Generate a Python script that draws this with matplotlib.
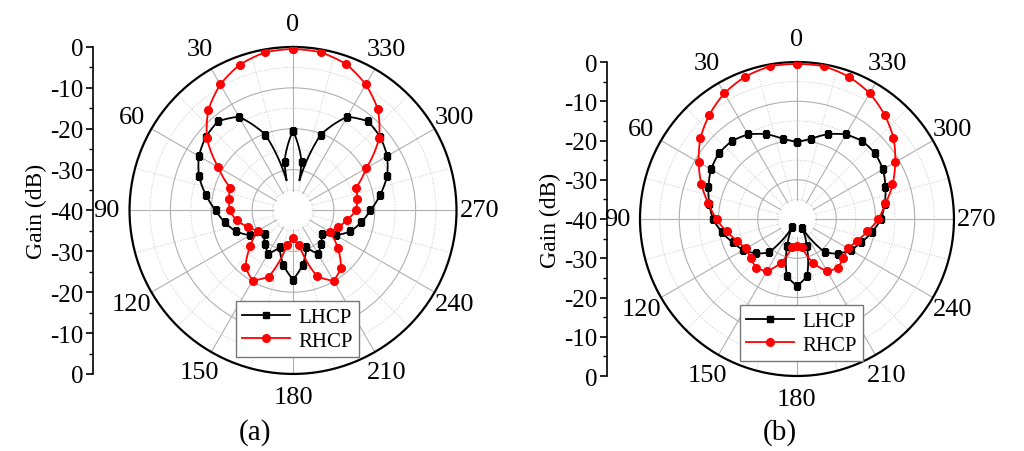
import numpy as np
import matplotlib
matplotlib.use("Agg")
import matplotlib.pyplot as plt

plt.rcParams['font.family'] = ['Liberation Serif', 'DejaVu Serif']

# angles in degrees, 0 at top, counter-clockwise
angles = list(range(0, 360, 10))
angle_ticks = list(range(0, 360, 30))
angle_labels = [str(a) for a in angle_ticks]

# panel (a)
a_rhcp = [-0.5, -0.7, -2.0, -4.4, -7.8, -12.5, -18.9, -23.6, -24.1, -24.5,
          -26.0, -28.3, -30.0, -26.3, -21.9, -20.2, -22.8, -31.4, -33.3, -31.4,
          -22.9, -20.1, -21.7, -25.7, -29.6, -28.2, -26.6, -24.6, -24.0, -23.6,
          -19.3, -12.5, -7.7, -4.4, -1.9, -0.7]
a_lhcp_angles = [0, 10, 12, 20, 30, 40, 50, 60, 70, 80, 90, 100, 110, 120, 130,
                 140, 150, 160, 170, 180, 190, 200, 210, 220, 230, 240, 250,
                 260, 270, 280, 290, 300, 310, 320, 330, 340, 348, 350]
a_lhcp = [-20.5, -28.0, -32.5, -20.3, -13.5, -11.5, -12.1, -13.4, -15.5, -18.4,
          -21.1, -23.1, -25.1, -27.9, -30.9, -29.3, -27.8, -30.4, -26.5, -23.1,
          -26.5, -30.4, -27.8, -29.3, -30.9, -27.9, -25.1, -23.1, -21.1, -18.4,
          -15.5, -13.4, -12.1, -11.5, -13.5, -20.3, -32.5, -28.0]

# panel (b)
b_rhcp = [-0.5, -0.5, -1.4, -3.0, -5.3, -7.9, -11.1, -14.1, -17.1, -19.5,
          -21.8, -23.8, -25.1, -24.6, -23.8, -24.6, -28.2, -32.7, -33.2, -32.7,
          -28.2, -24.6, -23.8, -24.6, -25.1, -23.8, -21.8, -19.3, -17.1, -14.1,
          -11.1, -7.9, -5.3, -3.0, -1.4, -0.5]
b_lhcp = [-20.5, -19.3, -17.0, -15.1, -14.1, -14.0, -14.7, -16.0, -17.3, -18.6,
          -20.6, -22.6, -24.2, -26.4, -28.9, -37.7, -32.8, -25.2, -23.0, -25.2,
          -32.8, -37.5, -29.0, -26.3, -24.2, -22.6, -20.6, -18.6, -17.3, -16.0,
          -14.7, -14.0, -14.1, -15.1, -17.0, -19.3]

gain_ticks = list(range(-40, 41, 10))
gain_labels = [str(-(40 - abs(v))) for v in gain_ticks]


def closed(th, r):
    th = list(th) + [th[0] + 360]
    r = list(r) + [r[0]]
    return np.deg2rad(th), r


def gain_axis(fig, x, bottom, height):
    ax = fig.add_axes([x, bottom, 0.0005, height])
    ax.patch.set_visible(False)
    for s in ['right', 'top', 'bottom']:
        ax.spines[s].set_visible(False)
    ax.spines['left'].set_linewidth(1.2)
    ax.set_xticks([])
    ax.set_ylim(-40, 40)
    ax.set_yticks(gain_ticks)
    ax.set_yticklabels(gain_labels, fontsize=18)
    ax.set_yticks(range(-35, 40, 5), minor=True)
    ax.tick_params(axis='y', which='major', length=5, width=1.2, pad=2)
    ax.tick_params(axis='y', which='minor', length=3, width=1.0)
    ax.set_ylabel('Gain (dB)', fontsize=17, labelpad=2)
    return ax


def polar_panel(fig, rect, lhcp_ang, lhcp, rhcp_ang, rhcp, legend_top):
    ax = fig.add_axes(rect, projection='polar')
    ax.set_theta_zero_location('N')
    ax.set_theta_direction(1)
    ax.set_ylim(-40, 0)

    ax.set_xticks(np.deg2rad(angle_ticks))
    ax.set_xticklabels(angle_labels, fontsize=19)
    ax.set_xticks(np.deg2rad(range(15, 360, 30)), minor=True)
    ax.tick_params(axis='x', which='both', direction='inout', length=6,
                   width=1.0, color='black', pad=6.5)

    ax.set_yticks([-30, -20, -10])
    ax.set_yticks([-35, -25, -15, -5], minor=True)
    ax.set_yticklabels([])
    ax.tick_params(axis='y', which='both', length=0)

    ax.grid(True, which='major', color='#b0b0b0', lw=0.8, ls='-')
    ax.grid(True, which='minor', color='#c8c8c8', lw=0.7, ls=':')
    ax.spines['polar'].set_linewidth(1.6)
    ax.spines['polar'].set_color('black')

    # white hole in the middle of the grid
    t = np.linspace(0, 2 * np.pi, 120)
    ax.fill(t, np.full_like(t, -35.4), color='white', zorder=2, lw=0)

    th, r = closed(lhcp_ang, lhcp)
    marks = [i for i, a in enumerate(list(lhcp_ang) + [360]) if a % 10 == 0]
    l1, = ax.plot(th, r, '-s', color='black', lw=1.3, ms=5, markevery=marks,
                  label='LHCP', zorder=3)
    th, r = closed(rhcp_ang, rhcp)
    l2, = ax.plot(th, r, '-o', color='red', lw=1.3, ms=5.5, label='RHCP',
                  zorder=3)
    # draw segments along the polar grid instead of straight chords
    for ln in (l1, l2):
        ln.get_path()._interpolation_steps = 8

    ax.legend(loc='upper center', bbox_to_anchor=(0.514, legend_top),
              fontsize=15, frameon=True, fancybox=False, edgecolor='#777777',
              framealpha=1, handlelength=2.3, handletextpad=0.4,
              borderpad=0.3, labelspacing=0.2, borderaxespad=0)
    return ax


fig = plt.figure(figsize=(10.24, 4.52), dpi=100)

polar_panel(fig, [0.1265, 0.1704, 0.3193, 0.7235],
            a_lhcp_angles, a_lhcp, angles, a_rhcp, 0.223)
gain_axis(fig, 0.0908, 0.1704, 0.7235)

polar_panel(fig, [0.625, 0.1659, 0.3066, 0.6947],
            angles, b_lhcp, angles, b_rhcp, 0.226)
gain_axis(fig, 0.5928, 0.1659, 0.6947)

fig.text(0.249, 0.042, '(a)', fontsize=21, ha='center', va='center')
fig.text(0.762, 0.042, '(b)', fontsize=21, ha='center', va='center')

fig.savefig('out.png', dpi=100)
